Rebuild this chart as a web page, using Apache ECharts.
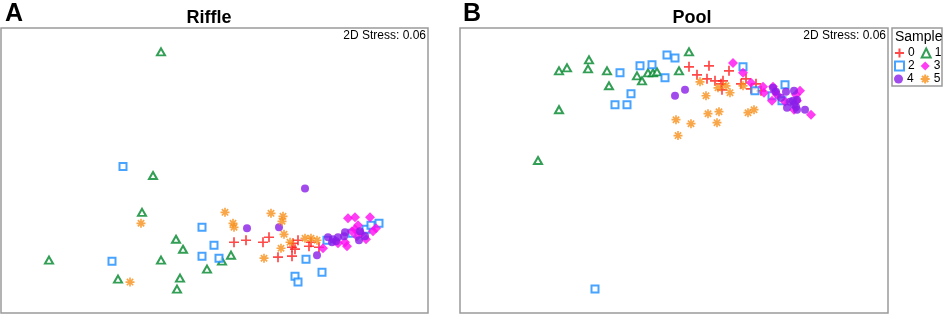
<!DOCTYPE html>
<html>
<head>
<meta charset="utf-8">
<script src="https://cdn.jsdelivr.net/npm/echarts@6/dist/echarts.min.js"></script>
<style>
  html,body{margin:0;padding:0;background:#fff;}
  #main{width:943px;height:315px;}
</style>
</head>
<body>
<div id="main"></div>
<script>
  // NMDS ordination scores (arbitrary units, y up)
  // Riffle panel, one array per sample
  var riffle0 = [[233,71],[245,73],[262,71],[268,76],[277,56],[291,57],[291,66],[294,64],[292,70],[297,73],[308,67],[310,71],[318,66]];
  var riffle1 = [[160,262],[152,138],[141,101],[175,74],[182,64],[48,53],[160,53],[117,34],[179,35],[176,24],[206,44],[221,52],[230,58]];
  var riffle2 = [[122,147],[111,52],[201,86],[213,68],[201,57],[218,55],[305,54],[294,37],[297,31],[321,41],[326,73],[351,80],[365,84],[370,88],[378,90]];
  var riffle3 = [[347,95],[354,96],[369,96],[357,88],[354,84],[360,80],[356,77],[344,71],[346,67],[337,70],[322,65],[365,74],[372,82],[375,85],[351,82]];
  var riffle4 = [[304,125],[246,85],[278,86],[316,58],[327,76],[332,74],[337,76],[331,71],[335,72],[344,81],[343,77],[359,82],[364,77],[358,73]];
  var riffle5 = [[140,90],[129,31],[224,101],[232,90],[233,86],[270,100],[282,97],[281,92],[283,79],[289,71],[280,65],[263,55],[304,75],[310,75],[316,73]];

  // Pool panel
  var pool0 = [[229,247],[249,248],[237,239],[247,235],[255,233],[263,233],[269,243],[262,224],[261,230],[281,230],[286,235],[296,230],[291,225],[301,223]];
  var pool1 = [[99,243],[107,246],[129,254],[128,245],[147,243],[149,228],[177,238],[182,233],[188,241],[193,241],[197,242],[219,243],[229,262],[99,204],[78,153]];
  var pool2 = [[207,259],[215,256],[180,248],[192,249],[160,241],[205,236],[171,220],[155,209],[167,209],[283,247],[295,223],[312,218],[325,229],[322,213],[135,24]];
  var pool3 = [[273,251],[283,241],[291,231],[303,227],[304,221],[312,213],[313,227],[317,219],[325,212],[334,204],[337,213],[340,223],[336,219],[351,199],[315,222]];
  var pool4 = [[215,218],[225,224],[313,226],[316,222],[321,216],[326,222],[327,206],[330,212],[333,213],[334,223],[336,207],[337,204],[337,214],[345,204],[334,209]];
  var pool5 = [[240,232],[258,226],[246,218],[266,228],[270,221],[283,228],[216,194],[231,190],[218,178],[248,200],[259,202],[257,191],[288,201],[294,204]];

  var sampleNames = ['0','1','2','3','4','5'];
  var riffleData = [riffle0, riffle1, riffle2, riffle3, riffle4, riffle5];
  var poolData = [pool0, pool1, pool2, pool3, pool4, pool5];

  var FONT = 'Liberation Sans, Arial, sans-serif';

  // marker style per sample
  var marks = [
    {symbol:'path://M5,0L5,10M0,5L10,5', size:10, itemStyle:{color:'#ff1a1a', borderColor:'#ff1a1a', borderWidth:1.7}},
    {symbol:'triangle', size:[8,7], itemStyle:{color:'#fff', borderColor:'#00862a', borderWidth:2}},
    {symbol:'rect', size:7, itemStyle:{color:'#fff', borderColor:'#1a8cff', borderWidth:2}},
    {symbol:'diamond', size:10, itemStyle:{color:'#ff0cf0'}},
    {symbol:'circle', size:8, itemStyle:{color:'#8a1ee8'}},
    {symbol:'path://M5,0L5,10M0,5L10,5M1.5,1.5L8.5,8.5M8.5,1.5L1.5,8.5', size:9, itemStyle:{color:'#f7901c', borderColor:'#f7901c', borderWidth:1.7}}
  ];

  var series = [];
  function addPanel(list, idx){
    for(let i=0;i<list.length;i++){
      series.push({
        name: sampleNames[i],
        type: 'scatter',
        xAxisIndex: idx,
        yAxisIndex: idx,
        data: list[i],
        symbol: marks[i].symbol,
        symbolSize: marks[i].size,
        itemStyle: marks[i].itemStyle,
        emphasis: {disabled: true}
      });
    }
  }
  addPanel(riffleData, 0);
  addPanel(poolData, 1);

  var hiddenAxis = {show:false, type:'value', splitLine:{show:false}};

  // legend is three rows of two, like the original key
  function legendRow(names, top){
    return {
      data: names,
      orient: 'horizontal',
      left: 894,
      top: top,
      padding: 0,
      itemGap: 6,
      itemWidth: 9,
      itemHeight: 9,
      selectedMode: false,
      textStyle: {fontFamily:FONT, fontSize:12, color:'#000', padding:[0,0,0,-1]}
    };
  }

  var myChart = echarts.init(document.getElementById('main'));
  var option = {
    animation: false,
    backgroundColor: '#fff',
    title: [
      {text:'A', left:0, top:-3, textStyle:{fontFamily:FONT, fontSize:25, fontWeight:'bold', color:'#000'}},
      {text:'Riffle', left:204, top:4, textAlign:'center', textStyle:{fontFamily:FONT, fontSize:18, fontWeight:'bold', color:'#000'}},
      {text:'B', left:458, top:-3, textStyle:{fontFamily:FONT, fontSize:25, fontWeight:'bold', color:'#000'}},
      {text:'Pool', left:687, top:4, textAlign:'center', textStyle:{fontFamily:FONT, fontSize:18, fontWeight:'bold', color:'#000'}},
      {text:'2D Stress: 0.06', right:517, top:30, padding:0, textStyle:{fontFamily:FONT, fontSize:12, fontWeight:'normal', color:'#000'}},
      {text:'2D Stress: 0.06', right:57, top:30, padding:0, textStyle:{fontFamily:FONT, fontSize:12, fontWeight:'normal', color:'#000'}},
      {text:'Sample', left:895, top:30, padding:0, textStyle:{fontFamily:FONT, fontSize:14, fontWeight:'normal', color:'#000'}}
    ],
    grid: [
      {left:1, top:28, width:427, height:285, show:true, borderColor:'#9a9a9a', borderWidth:1.5, backgroundColor:'transparent'},
      {left:460, top:28, width:428, height:285, show:true, borderColor:'#9a9a9a', borderWidth:1.5, backgroundColor:'transparent'}
    ],
    xAxis: [
      Object.assign({gridIndex:0, min:0, max:427}, hiddenAxis),
      Object.assign({gridIndex:1, min:0, max:428}, hiddenAxis)
    ],
    yAxis: [
      Object.assign({gridIndex:0, min:0, max:286}, hiddenAxis),
      Object.assign({gridIndex:1, min:0, max:286}, hiddenAxis)
    ],
    legend: [
      legendRow(['0','1'], 47),
      legendRow(['2','3'], 60),
      legendRow(['4','5'], 73)
    ],
    graphic: [
      {type:'rect', shape:{x:892, y:28, width:50, height:58}, style:{fill:'none', stroke:'#9a9a9a', lineWidth:1.5}, silent:true}
    ],
    series: series
  };
  myChart.setOption(option);
</script>
</body>
</html>
